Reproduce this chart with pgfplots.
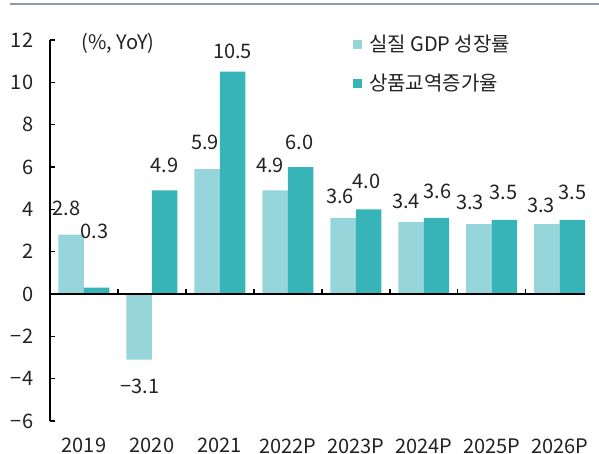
\documentclass[border=0pt]{standalone}
\usepackage{fontspec}
\setmainfont{Noto Sans CJK KR}
\usepackage{pgfplots}
\usepackage{pgfplotstable}
\pgfplotsset{compat=1.18}
\definecolor{gdp}{HTML}{96D5DA}
\definecolor{trade}{HTML}{37B4B8}
\definecolor{txt}{HTML}{222222}
\definecolor{topline}{HTML}{8C9BAB}

% x = category index, dx/dy = label nudges (pt)
\pgfplotstableread{
x y dx dy lab
0 2.8 -5 12 2.8
1 -3.1 1 -41 −3.1
2 5.9 -2 12 5.9
3 4.9 -5 11 4.9
4 3.6 -3 7 3.6
5 3.4 -5 6 3.4
6 3.3 -9 8 3.3
7 3.3 -6 5 3.3
}\gdptab
\pgfplotstableread{
x y dx dy lab
0 0.3 -2 42 0.3
1 4.9 0 11 4.9
2 10.5 0 6 10.5
3 6.0 -1 10 6.0
4 4.0 -2 14 4.0
5 3.6 1 12 3.6
6 3.5 -1 13 3.5
7 3.5 0 13 3.5
}\tradetab

\begin{document}
\fontsize{20pt}{24pt}\selectfont
\begin{tikzpicture}
\useasboundingbox (0,0) rectangle (599pt,-454pt);
\draw[topline, line width=1.5pt] (10pt,-4pt) -- (599pt,-4pt);
\begin{axis}[
  at={(50pt,-421pt)}, anchor=south west,
  scale only axis, width=535pt, height=381pt,
  xmin=-0.5, xmax=7.373, ymin=-6, ymax=12,
  axis y line*=left, axis x line*=bottom,
  x axis line style={draw=none},
  y axis line style={line width=2pt, black},
  clip=false,
  ytick={-6,-4,...,12},
  yticklabels={−6,−4,−2,0,2,4,6,8,10,12},
  tick align=inside, major tick length=5pt,
  ytick style={line width=1.5pt, black},
  xtick={0,...,7},
  xticklabels={2019,2020,2021,2022P,2023P,2024P,2025P,2026P},
  major x tick style={draw=none},
  xticklabel style={yshift=-5.5pt, text=txt},
  yticklabel style={xshift=-10pt, text=txt},
  ybar, bar width=0.375,
  point meta=explicit symbolic,
  nodes near coords,
  visualization depends on={\thisrow{dx} \as \ldx},
  visualization depends on={\thisrow{dy} \as \ldy},
  nodes near coords style={text=txt, xshift=\ldx pt, yshift=\ldy pt},
  legend image code/.code={\fill[#1] (0pt,-4.5pt) rectangle (9pt,4.5pt); \path (14pt,0pt);},
  legend style={at={(0.566,1.02)}, anchor=north west, draw=none, fill=none,
    inner sep=0pt, row sep=16pt, text=txt,
    nodes={inner sep=2pt}},
  legend cell align=left,
]
\addplot[fill=gdp, draw=none, bar shift=-0.1875] table[x=x, y=y, meta=lab] {\gdptab};
\addlegendentry{실질 GDP 성장률}
\addplot[fill=trade, draw=none, bar shift=0.1875] table[x=x, y=y, meta=lab] {\tradetab};
\addlegendentry{상품교역증가율}
\draw[black, line width=2pt] (axis cs:-0.5,0) -- (axis cs:7.373,0);
\pgfplotsinvokeforeach{0.5,1.5,2.5,3.5,4.5,5.5,6.5}{
  \draw[black, line width=1.5pt] (axis cs:#1,0) -- ++(0pt,5pt);
}
\node[text=txt] at (axis cs:0.5,11.86) {(\%, YoY)};
\end{axis}
\end{tikzpicture}
\end{document}
